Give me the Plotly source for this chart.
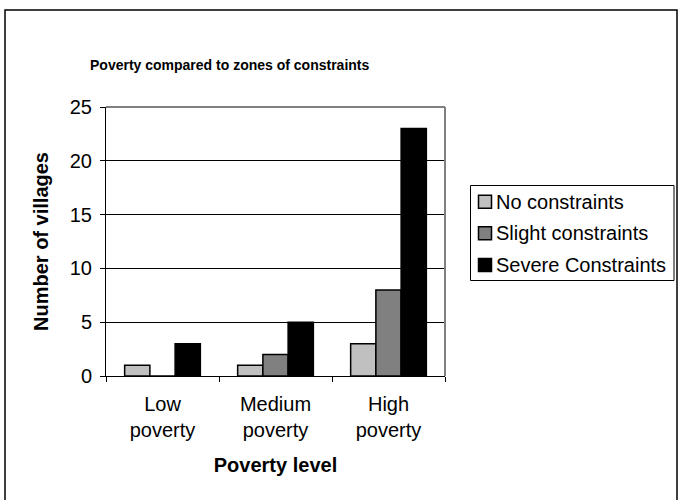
import plotly.graph_objects as go

categories = ["Low<br>poverty", "Medium<br>poverty", "High<br>poverty"]
series_names = ["No constraints", "Slight constraints", "Severe Constraints"]
no_constraints = [1, 1, 3]
slight_constraints = [0, 2, 8]
severe_constraints = [3, 5, 23]
series_values = [no_constraints, slight_constraints, severe_constraints]
series_colors = ["#C0C0C0", "#808080", "#000000"]
y_ticks = [0, 5, 10, 15, 20, 25]

FONT = "Arial, 'Liberation Sans', sans-serif"

W, H = 678, 500
L, R, T, B = 106, 233, 107, 124
PW = W - L - R
PH = H - T - B


def px_x(x):
    return (x - L) / PW


def px_y(y):
    return (H - B - y) / PH


fig = go.Figure()
for name, vals, col in zip(series_names, series_values, series_colors):
    fig.add_trace(go.Bar(
        x=categories, y=vals, name=name,
        marker=dict(color=col, line=dict(color="#000000", width=1.5)),
    ))

# legend drawn as a boxed key to match the reference spacing
legend_rows = [201.7, 233.3, 265.0]
shapes = [
    dict(type="line", xref="paper", yref="paper", x0=0, x1=1, y0=1, y1=1,
         line=dict(color="#808080", width=2), layer="above"),
    dict(type="line", xref="paper", yref="paper", x0=1, x1=1, y0=0, y1=1,
         line=dict(color="#808080", width=2), layer="above"),
    dict(type="rect", xref="paper", yref="paper",
         x0=px_x(5), x1=px_x(677), y0=px_y(10), y1=px_y(530),
         line=dict(color="#000000", width=1.5), layer="above"),
    dict(type="rect", xref="paper", yref="paper",
         x0=px_x(470.5), x1=px_x(674), y0=px_y(185.5), y1=px_y(280.5),
         line=dict(color="#000000", width=1), fillcolor="white", layer="above"),
]
annotations = []
for name, col, yc in zip(series_names, series_colors, legend_rows):
    shapes.append(dict(
        type="rect", xref="paper", yref="paper",
        x0=px_x(478.5), x1=px_x(491.5), y0=px_y(yc - 6.5), y1=px_y(yc + 6.5),
        line=dict(color="#000000", width=1.5), fillcolor=col, layer="above",
    ))
    annotations.append(dict(
        text=name, xref="paper", yref="paper", x=px_x(494), y=px_y(yc),
        xanchor="left", yanchor="middle", showarrow=False,
        font=dict(family=FONT, size=20, color="#000000"),
    ))

fig.update_layout(
    width=W, height=H,
    margin=dict(l=L, r=R, t=T, b=B, autoexpand=False),
    paper_bgcolor="white", plot_bgcolor="white",
    font=dict(family=FONT, color="#000000", size=20),
    barmode="group", bargap=0.33, bargroupgap=0,
    showlegend=False,
    title=dict(
        text="<b>Poverty compared to zones of constraints</b>",
        font=dict(family=FONT, size=14, color="#000000"),
        x=90 / W, xanchor="left", xref="container",
        y=1 - 65 / H, yanchor="middle", yref="container",
    ),
    xaxis=dict(
        type="category", showline=True, linecolor="#000000", linewidth=1,
        ticks="outside", tickson="boundaries", ticklen=5, tickcolor="#000000",
        tickfont=dict(family=FONT, size=20), ticklabelstandoff=10,
        title=dict(text="<b>Poverty level</b>", font=dict(family=FONT, size=20), standoff=17),
        showgrid=False,
    ),
    yaxis=dict(
        range=[0, 25], tickvals=y_ticks, showline=True, linecolor="#000000", linewidth=1,
        ticks="outside", ticklen=5, tickcolor="#000000",
        tickfont=dict(family=FONT, size=20), ticklabelstandoff=4,
        showgrid=True, gridcolor="#000000", gridwidth=1, zeroline=False,
        title=dict(text="<b>Number of villages</b>", font=dict(family=FONT, size=20), standoff=15),
    ),
    shapes=shapes,
    annotations=annotations,
)

fig.write_html("out.html", config={"displayModeBar": False},
               post_script="document.body.style.margin='0';")
